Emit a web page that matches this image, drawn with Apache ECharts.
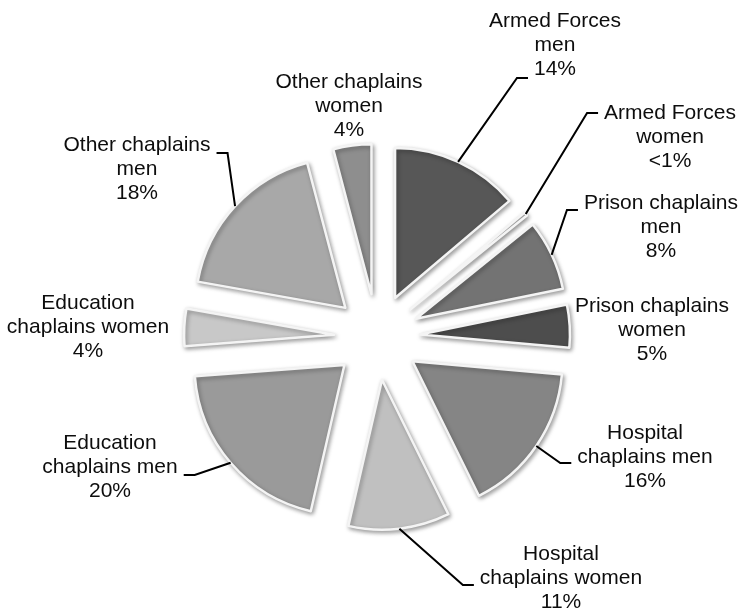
<!DOCTYPE html>
<html><head><meta charset="utf-8">
<script src="https://cdn.jsdelivr.net/npm/echarts@6/dist/echarts.min.js"></script>
<style>html,body{margin:0;padding:0;background:#fff}#c{width:742px;height:613px}</style>
</head><body><div id="c"></div>
<script>
const categories = ['Armed Forces\nmen', 'Armed Forces\nwomen', 'Prison chaplains\nmen', 'Prison chaplains\nwomen', 'Hospital\nchaplains men', 'Hospital\nchaplains women', 'Education\nchaplains men', 'Education\nchaplains women', 'Other chaplains\nmen', 'Other chaplains\nwomen'];
const shares = [13.8, 0.4, 7.6, 4.6, 16.3, 10.9, 20.2, 4.0, 18.1, 4.1];
const shareLabels = ['14%', '<1%', '8%', '5%', '16%', '11%', '20%', '4%', '18%', '4%'];
const sliceColors = ['#575757', '#bdbdbd', '#737373', '#4d4d4d', '#858585', '#c0c0c0', '#9a9a9a', '#c8c8c8', '#a8a8a8', '#8e8e8e'];
// label placement (layout): [centerX, centerY, leaderSide, attachLine, attachDy]
const labelPlacement = [
  [555, 45, 'l', 2, 9],
  [670, 137, 'l', 0, 0],
  [661, 227, 'l', 0, 7],
  [652, 330, null],
  [645, 457, 'l', 1, 6],
  [561, 578, 'l', 1, 7],
  [110, 467, 'r', 1, 8],
  [88, 327, null],
  [137, 169, 'r', 0, 8],
  [349, 106, null]
];
const OFFSET = 43, LINE_H = 24, FONT = '21px "Liberation Sans", Arial, sans-serif';
const CENTER = [377, 337], RADIUS = 150;
const mctx = document.createElement('canvas').getContext('2d');
mctx.font = FONT;
function measure(t) { return mctx.measureText(t).width; }

const chart = echarts.init(document.getElementById('c'), null, { renderer: 'canvas' });

const sliceData = categories.map((c, i) => ({
  name: c, value: shares[i], selected: true,
  itemStyle: { color: sliceColors[i] }
}));
const labelData = categories.map((c, i) => ({
  name: c, value: shares[i],
  labelLine: { show: !!labelPlacement[i][2] }
}));

chart.setOption({
  animation: false,
  backgroundColor: '#ffffff',
  series: [{
    type: 'pie',
    center: CENTER,
    radius: RADIUS,
    startAngle: 90,
    clockwise: true,
    selectedMode: 'multiple',
    selectedOffset: OFFSET,
    silent: true,
    data: sliceData,
    itemStyle: {
      borderColor: '#f4f4f4', borderWidth: 2.5,
      shadowBlur: 4, shadowColor: 'rgba(0,0,0,0.35)', shadowOffsetX: 1.5, shadowOffsetY: 2
    },
    select: { itemStyle: { borderColor: '#f4f4f4', borderWidth: 2.5 } },
    emphasis: { disabled: true },
    label: { show: false },
    labelLine: { show: false }
  }, {
    type: 'pie',
    center: CENTER,
    radius: RADIUS,
    startAngle: 90,
    clockwise: true,
    silent: true,
    z: 3,
    avoidLabelOverlap: false,
    data: labelData,
    itemStyle: { color: 'rgba(0,0,0,0)', borderWidth: 0 },
    emphasis: { disabled: true },
    label: {
      show: true,
      formatter: p => categories[p.dataIndex] + '\n' + shareLabels[p.dataIndex],
      fontFamily: '"Liberation Sans", Arial, sans-serif',
      fontSize: 21, lineHeight: LINE_H, color: '#0d0d0d', align: 'center'
    },
    labelLine: { show: true, lineStyle: { color: '#000', width: 2 }, length: 10, length2: 10 },
    labelLayout: function (p) {
      const i = p.dataIndex;
      const L = labelPlacement[i];
      const res = { x: L[0], y: L[1], align: 'center', verticalAlign: 'middle' };
      if (L[2]) {
        const lay = chart.getModel().getSeriesByIndex(1).getData().getItemLayout(i);
        const mid = (lay.startAngle + lay.endAngle) / 2;
        const rr = lay.r + OFFSET;
        const p0 = [lay.cx + rr * Math.cos(mid), lay.cy + rr * Math.sin(mid)];
        const lines = (categories[i] + '\n' + shareLabels[i]).split('\n');
        const w = measure(lines[L[3]]);
        const y = L[1] + (L[3] - 1) * LINE_H + L[4];
        let x1, x2;
        if (L[2] === 'l') { x2 = L[0] - w / 2 - 6; x1 = x2 - 11; }
        else { x2 = L[0] + w / 2 + 6; x1 = x2 + 11; }
        res.labelLinePoints = [p0, [x1, y], [x2, y]];
      }
      return res;
    }
  }]
});
</script></body></html>
